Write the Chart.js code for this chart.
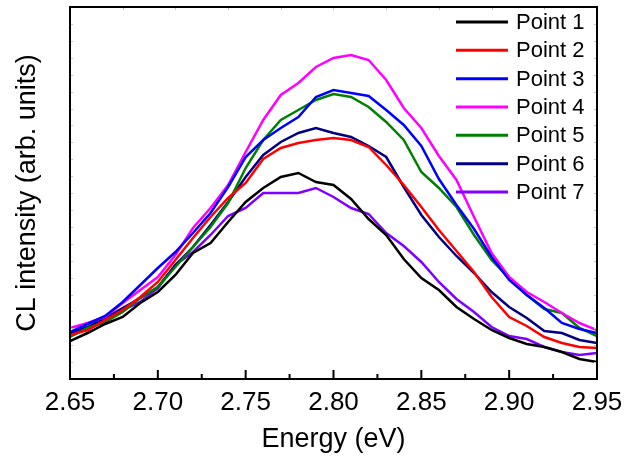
<!DOCTYPE html>
<html>
<head>
<meta charset="utf-8">
<script src="https://cdn.jsdelivr.net/npm/chart.js@4.4.0/dist/chart.umd.min.js"></script>
<style>
  body { margin: 0; background: #fff; }
  #wrap { width: 637px; height: 466px; }
</style>
</head>
<body>
<div id="wrap"><canvas id="clChart" width="637" height="466"></canvas></div>
<script>
// Energy axis (eV) and CL intensity of each point
const energy = [2.65, 2.66, 2.67, 2.68, 2.69, 2.70, 2.71, 2.72, 2.73, 2.74, 2.75,
  2.76, 2.77, 2.78, 2.79, 2.80, 2.81, 2.82, 2.83, 2.84, 2.85,
  2.86, 2.87, 2.88, 2.89, 2.90, 2.91, 2.92, 2.93, 2.94, 2.95];
const point1 = [38, 46, 55, 62, 76, 87, 104, 126, 136, 157, 177, 191, 202, 206, 197, 194, 180, 160, 144, 120, 101, 89, 72, 60, 49, 41, 35, 32, 27, 20, 17];
const point2 = [44, 49, 59, 69, 82, 97, 119, 141, 162, 181, 196, 220, 231, 236, 239, 241, 239, 232, 214, 194, 172, 149, 128, 107, 82, 62, 53, 42, 36, 32, 31];
const point3 = [47, 55, 63, 77, 94, 111, 127, 146, 166, 192, 222, 239, 251, 262, 282, 289, 286, 283, 269, 254, 233, 200, 174, 150, 122, 99, 84, 71, 56, 50, 46];
const point4 = [51, 56, 62, 76, 89, 102, 124, 151, 171, 194, 227, 259, 284, 296, 312, 321, 324, 319, 299, 271, 251, 223, 199, 162, 126, 102, 87, 77, 66, 56, 49];
const point5 = [42, 51, 57, 67, 81, 92, 112, 132, 152, 176, 211, 239, 259, 269, 279, 285, 282, 272, 257, 239, 207, 191, 172, 144, 119, 101, 84, 70, 66, 51, 43];
const point6 = [46, 52, 61, 71, 81, 92, 114, 132, 154, 177, 202, 224, 237, 246, 251, 246, 242, 233, 222, 192, 164, 142, 123, 106, 87, 72, 61, 48, 46, 39, 36];
const point7 = [46, 49, 59, 69, 77, 91, 114, 127, 144, 163, 171, 186, 186, 186, 191, 182, 171, 165, 146, 133, 117, 97, 80, 67, 52, 43, 40, 32, 27, 24, 26];

const seriesNames = ["Point 1", "Point 2", "Point 3", "Point 4", "Point 5", "Point 6", "Point 7"];
const seriesValues = [point1, point2, point3, point4, point5, point6, point7];
const seriesColors = ["#000000", "#ff0000", "#0000ff", "#ff00ff", "#008000", "#000080", "#8000ff"];

const xTicks = [2.65, 2.70, 2.75, 2.80, 2.85, 2.90, 2.95];
const xMinorTicks = [2.675, 2.725, 2.775, 2.825, 2.875, 2.925];
const topTicks = [2.68, 2.71, 2.74, 2.77, 2.80, 2.83, 2.86, 2.89, 2.92];
const yMax = 372;
const yTickStep = 16.9;

Chart.defaults.font.family = '"Liberation Sans", Arial, sans-serif';
Chart.defaults.color = "#000";

function strokeLine(ctx, x1, y1, x2, y2) {
  ctx.beginPath();
  ctx.moveTo(x1, y1);
  ctx.lineTo(x2, y2);
  ctx.stroke();
}

// Inward ticks and the closed box around the plot
const framePlugin = {
  id: "frame",
  afterDatasetsDraw(chart) {
    const { ctx, chartArea: a, scales } = chart;
    ctx.save();
    ctx.strokeStyle = "#c4c4c4";
    ctx.lineWidth = 1;
    topTicks.forEach((v) => {
      const x = Math.round(scales.x.getPixelForValue(v)) + 0.5;
      strokeLine(ctx, x, a.top, x, a.top + 3);
    });
    for (let v = yTickStep; v < yMax - 1; v += yTickStep) {
      const y = Math.round(scales.y.getPixelForValue(v)) + 0.5;
      strokeLine(ctx, a.left, y, a.left + 3, y);
      strokeLine(ctx, a.right - 3, y, a.right, y);
    }

    ctx.strokeStyle = "#000";
    ctx.lineWidth = 2;
    xTicks.forEach((v) => {
      const x = scales.x.getPixelForValue(v);
      strokeLine(ctx, x, a.bottom, x, a.bottom - 9);
    });
    xMinorTicks.forEach((v) => {
      const x = scales.x.getPixelForValue(v);
      strokeLine(ctx, x, a.bottom, x, a.bottom - 5);
    });
    ctx.strokeRect(a.left, a.top, a.right - a.left, a.bottom - a.top);
    ctx.restore();
  },
};

// Legend in the top right corner, no border
const legendPlugin = {
  id: "cornerLegend",
  afterDraw(chart) {
    const { ctx, chartArea: a } = chart;
    ctx.save();
    ctx.font = '22px "Liberation Sans", Arial, sans-serif';
    ctx.textBaseline = "middle";
    ctx.textAlign = "left";
    chart.data.datasets.forEach((ds, i) => {
      const y = a.top + 15 + i * 28.33;
      ctx.strokeStyle = ds.borderColor;
      ctx.lineWidth = 3;
      strokeLine(ctx, a.right - 141, y, a.right - 89, y);
      ctx.fillStyle = "#000";
      ctx.fillText(ds.label, a.right - 81, y + 1);
    });
    ctx.restore();
  },
};

const datasets = seriesNames.map((name, i) => ({
  label: name,
  data: energy.map((e, j) => ({ x: e, y: seriesValues[i][j] })),
  borderColor: seriesColors[i],
  backgroundColor: seriesColors[i],
  borderWidth: 2.5,
  pointRadius: 0,
  tension: 0,
  fill: false,
}));

new Chart(document.getElementById("clChart").getContext("2d"), {
  type: "line",
  data: { datasets },
  options: {
    responsive: false,
    animation: false,
    layout: { padding: { top: 7, right: 40, left: 0, bottom: 0 } },
    plugins: {
      legend: { display: false },
      tooltip: { enabled: false },
    },
    scales: {
      x: {
        type: "linear",
        min: 2.65,
        max: 2.95,
        afterBuildTicks: (scale) => {
          scale.ticks = xTicks.map((v) => ({ value: v }));
        },
        afterFit: (scale) => {
          scale.height = 87;
        },
        grid: { display: false, drawTicks: false },
        border: { display: false },
        ticks: {
          padding: 8,
          maxRotation: 0,
          font: { size: 26 },
          callback: (v) => Number(v).toFixed(2),
        },
        title: {
          display: true,
          text: "Energy (eV)",
          font: { size: 27 },
          padding: { top: 0, bottom: 10 },
        },
      },
      y: {
        min: 0,
        max: yMax,
        afterFit: (scale) => {
          scale.width = 70;
        },
        grid: { display: false, drawTicks: false },
        border: { display: false },
        ticks: { display: false },
        title: {
          display: true,
          text: "CL intensity (arb. units)",
          font: { size: 27 },
          padding: { top: 11, bottom: 0 },
        },
      },
    },
  },
  plugins: [framePlugin, legendPlugin],
});
</script>
</body>
</html>
